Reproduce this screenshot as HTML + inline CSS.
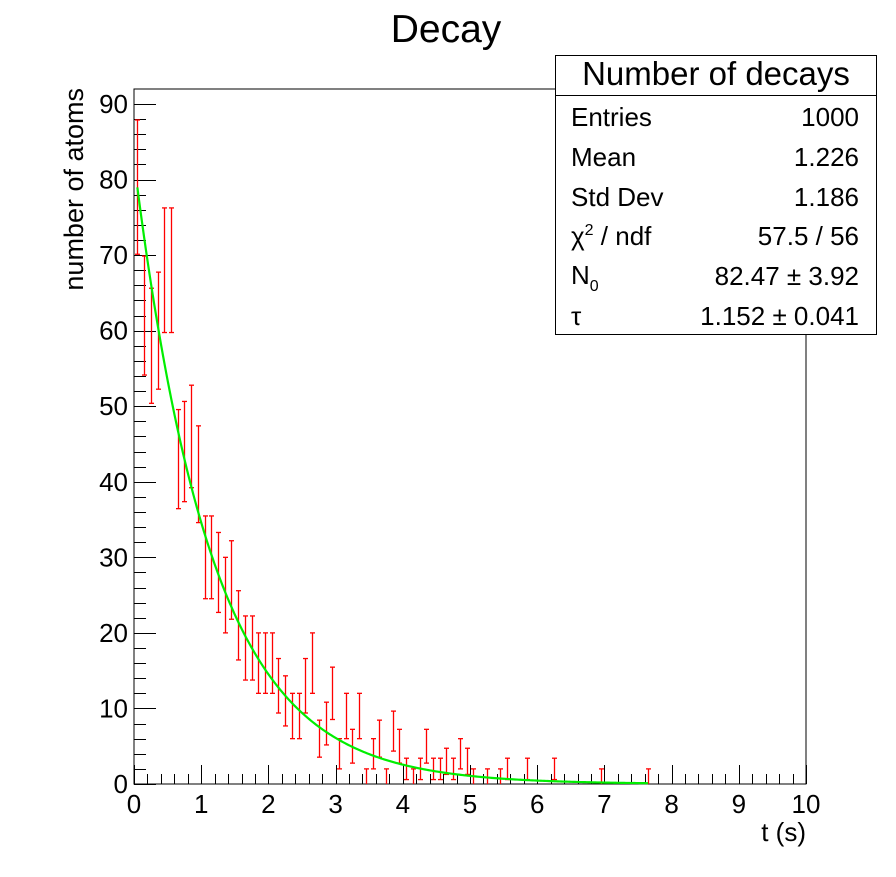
<!DOCTYPE html>
<html><head><meta charset="utf-8"><style>
html,body{margin:0;padding:0;background:#fff;}
svg text{font-family:"Liberation Sans",sans-serif;fill:#000;}
</style></head><body>
<svg id="chart" width="896" height="872" viewBox="0 0 896 872" xmlns="http://www.w3.org/2000/svg">
<text x="446" y="42" font-size="39" text-anchor="middle">Decay</text>
<rect x="134" y="89" width="672" height="695" fill="none" stroke="#000" stroke-width="1"/>
<g id="xticks"></g>
<g id="yticks"></g>
<g id="bars"></g>
<path id="fit" fill="none" stroke="#00ee00" stroke-width="2.2"/>
<text x="806" y="841" font-size="26" text-anchor="end">t (s)</text>
<text transform="translate(83,88) rotate(-90)" font-size="27" text-anchor="end">number of atoms</text>
<g>
<rect x="555.5" y="55.5" width="321" height="279" fill="#fff" stroke="#000" stroke-width="1"/>
<line x1="555.5" y1="95.5" x2="876.5" y2="95.5" stroke="#000"/>
<text x="716" y="85" font-size="33" text-anchor="middle">Number of decays</text>
<g font-size="26">
<text x="571" y="126">Entries</text><text x="859" y="126" text-anchor="end">1000</text>
<text x="571" y="166">Mean</text><text x="859" y="166" text-anchor="end">1.226</text>
<text x="571" y="206">Std Dev</text><text x="859" y="206" text-anchor="end">1.186</text>
<text x="571" y="245">χ<tspan font-size="16" dy="-10">2</tspan><tspan dy="10"> / ndf</tspan></text><text x="859" y="245" text-anchor="end">57.5 / 56</text>
<text x="571" y="284">N<tspan font-size="16" dy="7">0</tspan></text><text x="859" y="285" text-anchor="end">82.47 ± 3.92</text>
<text x="571" y="325">τ</text><text x="859" y="325" text-anchor="end">1.152 ± 0.041</text>
</g></g>
</svg>
<script>
const binCounts = [79,62,58,60,68,68,43,44,46,41,30,30,28,25,27,21,18,18,16,16,16,13,11,9,9,13,16,6,8,12,4,9,5,9,1,4,6,1,7,5,2,1,2,5,2,2,3,2,4,3,1,0,1,0,1,2,0,0,2,0,0,0,2,0,0,0,0,0,0,1,0,0,0,0,0,0,1,0,0,0,0,0,0,0,0,0,0,0,0,0,0,0,0,0,0,0,0,0,0,0];
const fitN0 = [82.47];
const fitTau = [1.152];
const fitRange = [0.05, 7.65];
const xTickLabels = ["0","1","2","3","4","5","6","7","8","9","10"];
const yTickLabels = ["0","10","20","30","40","50","60","70","80","90"];
const NS='http://www.w3.org/2000/svg';
const X0=134,X1=806,Y0=784,YPER=(784-104)/90,XMAX=10,BINW=0.1;
const sx=v=>X0+v*(X1-X0)/XMAX, sy=v=>Y0-v*YPER;
function mk(tag,attrs,parent){const e=document.createElementNS(NS,tag);for(const k in attrs)e.setAttribute(k,attrs[k]);parent.appendChild(e);return e;}
const xg=document.getElementById('xticks'),yg=document.getElementById('yticks'),bg=document.getElementById('bars');
for(let i=0;i<=50;i++){const v=i*0.2,x=Math.round(sx(v))+0.5,maj=i%5===0;
 const t=mk('line',{x1:x,x2:x,y1:Y0,y2:Y0-(maj?19:10),stroke:'#000'},xg);
 
 }
xTickLabels.forEach((l,i)=>{const t=mk('text',{x:sx(+l),y:813,'font-size':26,'text-anchor':'middle'},xg);t.textContent=l;
 
 });
for(let i=0;i<=45;i++){const v=i*2,y=Math.round(sy(v))+0.5,maj=i%5===0;
 const t=mk('line',{x1:X0,x2:X0+(maj?22:12),y1:y,y2:y,stroke:'#000'},yg);
 
 }
yTickLabels.forEach(l=>{const t=mk('text',{x:128,y:sy(+l)+9,'font-size':26,'text-anchor':'end'},yg);t.textContent=l;
 
 });
binCounts.forEach((n,i)=>{if(n<=0)return;const x=Math.round(sx((i+0.5)*BINW))+0.5,e=Math.sqrt(n);
 const g=mk('g',{stroke:'#ff0000','stroke-width':1.3},bg);
 
 
 const yt=sy(n+e),yb=Math.min(sy(n-e),Y0);
 mk('line',{x1:x,x2:x,y1:yt,y2:yb},g);
 mk('line',{x1:x-2.5,x2:x+2.5,y1:yt,y2:yt},g);
 if(sy(n-e)<Y0-0.5)mk('line',{x1:x-2.5,x2:x+2.5,y1:yb,y2:yb},g);
});
let d='';for(let k=0;k<=300;k++){const t=fitRange[0]+(fitRange[1]-fitRange[0])*k/300;const v=fitN0[0]*Math.exp(-t/fitTau[0]);d+=(k?'L':'M')+sx(t).toFixed(2)+' '+sy(v).toFixed(2);}
document.getElementById('fit').setAttribute('d',d);
</script>
</body></html>
